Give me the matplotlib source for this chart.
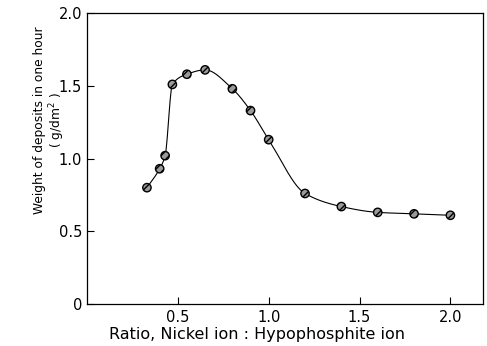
import numpy as np
import matplotlib
matplotlib.use("Agg")
import matplotlib.pyplot as plt

ratio = [0.33, 0.40, 0.43, 0.47, 0.55, 0.65, 0.80, 0.90, 1.00, 1.20, 1.40, 1.60, 1.80, 2.00]
weight = [0.80, 0.93, 1.02, 1.51, 1.58, 1.61, 1.48, 1.33, 1.13, 0.76, 0.67, 0.63, 0.62, 0.61]
xticks = [0.5, 1.0, 1.5, 2.0]
xticklabels = ["0.5", "1.0", "1.5", "2.0"]
yticks = [0, 0.5, 1.0, 1.5, 2.0]
yticklabels = ["0", "0.5", "1.0", "1.5", "2.0"]


def pchip(x, y, xn):
    x = np.asarray(x, float); y = np.asarray(y, float)
    h = np.diff(x); d = np.diff(y) / h
    n = len(x); m = np.zeros(n)
    for k in range(1, n - 1):
        if d[k - 1] * d[k] > 0:
            w1 = 2 * h[k] + h[k - 1]; w2 = h[k] + 2 * h[k - 1]
            m[k] = (w1 + w2) / (w1 / d[k - 1] + w2 / d[k])
    m[0] = d[0]; m[-1] = d[-1]
    idx = np.clip(np.searchsorted(x, xn) - 1, 0, n - 2)
    t = (xn - x[idx]) / h[idx]
    h00 = 2 * t**3 - 3 * t**2 + 1; h10 = t**3 - 2 * t**2 + t
    h01 = -2 * t**3 + 3 * t**2; h11 = t**3 - t**2
    return h00 * y[idx] + h10 * h[idx] * m[idx] + h01 * y[idx + 1] + h11 * h[idx] * m[idx + 1]


fig = plt.figure(figsize=(4.87, 3.46), dpi=100)
ax = fig.add_axes([0.1786, 0.1214, 0.8134, 0.8406])

xs = np.linspace(ratio[0], ratio[-1], 600)
ax.plot(xs, pchip(ratio, weight, xs), color="black", lw=0.8, zorder=2)
ax.scatter(ratio, weight, s=36, facecolor="#9a9a9a", edgecolor="black",
           linewidth=1.0, hatch="////", zorder=3)

ax.set_xlim(0, 2.18)
ax.set_ylim(0, 2.0)
ax.set_xticks(xticks)
ax.set_xticklabels(xticklabels)
ax.set_yticks(yticks)
ax.set_yticklabels(yticklabels)
ax.tick_params(direction="in", length=5, width=0.8, labelsize=10.5, colors="black")
ax.tick_params(axis="x", pad=4)
for s in ax.spines.values():
    s.set_linewidth(0.9)

fig.text(257 / 487, 1 - 335 / 346, "Ratio, Nickel ion : Hypophosphite ion",
         fontsize=11.5, ha="center", va="center")
fig.text(40 / 487, 1 - 120 / 346, "Weight of deposits in one hour",
         fontsize=8.8, rotation=90, ha="center", va="center")
fig.text(57 / 487, 1 - 120 / 346, "( g/dm$^2$ )",
         fontsize=8.8, rotation=90, ha="center", va="center")

fig.savefig("out.png", dpi=100)
